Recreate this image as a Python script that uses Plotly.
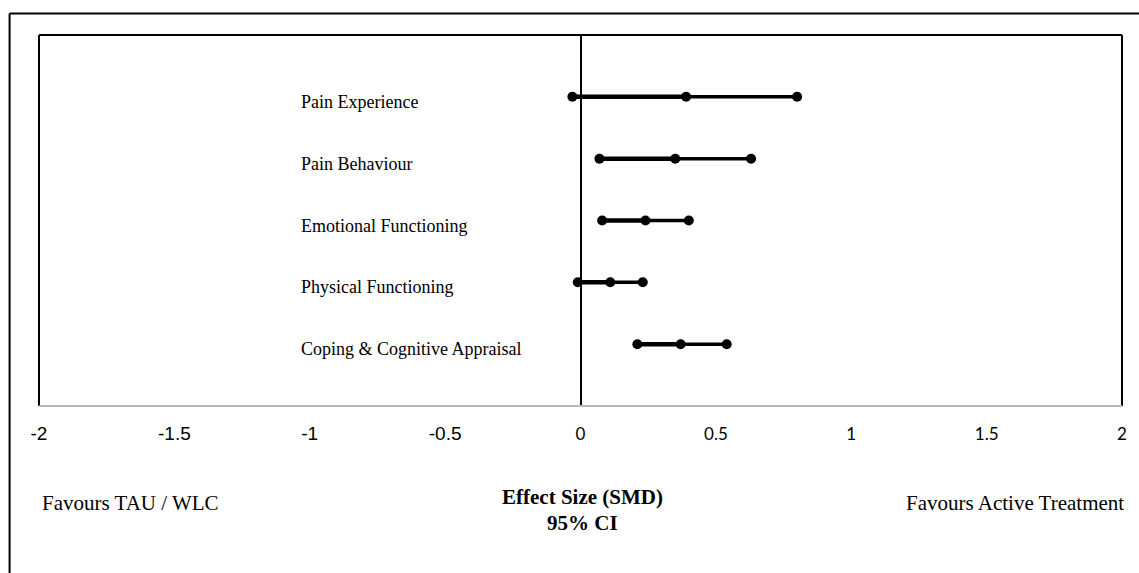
import plotly.graph_objects as go

# Outcome domains, top to bottom
domains = [
    "Pain Experience",
    "Pain Behaviour",
    "Emotional Functioning",
    "Physical Functioning",
    "Coping & Cognitive Appraisal",
]
# Standardised mean differences with 95% confidence limits
smd = [0.39, 0.35, 0.24, 0.11, 0.37]
ci_low = [-0.03, 0.07, 0.08, -0.01, 0.21]
ci_high = [0.80, 0.63, 0.40, 0.23, 0.54]

tick_vals = [-2, -1.5, -1, -0.5, 0, 0.5, 1, 1.5, 2]
tick_labels = ["-2", "-1.5", "-1", "-0.5", "0", "0.5", "1", "1.5", "2"]

W, H = 1139, 573
ML, MR, MT, MB = 39, 14, 35, 167
PW, PH = W - ML - MR, H - MT - MB


def px_x(p):
    return (p - ML) / PW


def px_y(p):
    return (H - MB - p) / PH


fig = go.Figure()

# lower limit -> estimate (heavier stroke), estimate -> upper limit
xs_lo, ys_lo, xs_hi, ys_hi = [], [], [], []
for d, lo, m, hi in zip(domains, ci_low, smd, ci_high):
    xs_lo += [lo, m, None]
    ys_lo += [d, d, None]
    xs_hi += [m, hi, None]
    ys_hi += [d, d, None]

fig.add_trace(go.Scatter(x=xs_lo, y=ys_lo, mode="lines",
                         line=dict(color="black", width=4.5),
                         hoverinfo="skip", showlegend=False))
fig.add_trace(go.Scatter(x=xs_hi, y=ys_hi, mode="lines",
                         line=dict(color="black", width=3.5),
                         hoverinfo="skip", showlegend=False))

pts_x, pts_y = [], []
for d, lo, m, hi in zip(domains, ci_low, smd, ci_high):
    pts_x += [lo, m, hi]
    pts_y += [d, d, d]
fig.add_trace(go.Scatter(x=pts_x, y=pts_y, mode="markers",
                         marker=dict(color="black", size=10),
                         showlegend=False))

# mixed tick fonts on either side of zero
ticktext = []
for v, t in zip(tick_vals, tick_labels):
    if v < 0:
        ticktext.append(t)
    else:
        ticktext.append('<span style="font-family:Lato;font-size:17px">' + t + '</span>')

fig.update_xaxes(
    range=[-2, 2], tickmode="array", tickvals=tick_vals, ticktext=ticktext,
    tickfont=dict(family="Liberation Sans", size=19, color="black"),
    showgrid=False, showline=False, ticks="", ticklabelstandoff=14,
    zeroline=True, zerolinecolor="black", zerolinewidth=2,
)
fig.update_yaxes(
    type="category", categoryorder="array", categoryarray=domains[::-1],
    range=[-1, 5], visible=False, showgrid=False, zeroline=False,
)

serif = "Liberation Serif"
annotations = []
for d in domains:
    annotations.append(dict(
        x=px_x(300), xref="paper", y=d, yref="y", yshift=-5,
        text=d, showarrow=False, xanchor="left", yanchor="middle",
        font=dict(family=serif, size=18, color="black"),
    ))

annotations += [
    dict(x=px_x(40), y=px_y(503), xref="paper", yref="paper",
         text="Favours TAU / WLC", showarrow=False, xanchor="left",
         yanchor="middle", font=dict(family=serif, size=21, color="black")),
    dict(x=px_x(1129), y=px_y(503), xref="paper", yref="paper",
         text="Favours Active Treatment", showarrow=False, xanchor="right",
         yanchor="middle", font=dict(family=serif, size=21, color="black")),
    dict(x=px_x(584), y=px_y(497), xref="paper", yref="paper",
         text="<b>Effect Size (SMD)</b>", showarrow=False, xanchor="center",
         yanchor="middle", font=dict(family=serif, size=21, color="black")),
    dict(x=px_x(584), y=px_y(523), xref="paper", yref="paper",
         text="<b>95% CI</b>", showarrow=False, xanchor="center",
         yanchor="middle", font=dict(family=serif, size=21, color="black")),
]

shapes = [
    # outer chart frame (top and left edges)
    dict(type="line", xref="paper", yref="paper",
         x0=px_x(9.5), y0=px_y(13.5), x1=px_x(1150), y1=px_y(13.5),
         line=dict(color="black", width=2)),
    dict(type="line", xref="paper", yref="paper",
         x0=px_x(9.5), y0=px_y(13.5), x1=px_x(9.5), y1=px_y(600),
         line=dict(color="black", width=2)),
    # plot area frame
    dict(type="line", xref="paper", yref="paper",
         x0=0, y0=1, x1=1, y1=1, line=dict(color="black", width=2)),
    dict(type="line", xref="paper", yref="paper",
         x0=0, y0=0, x1=0, y1=1, line=dict(color="black", width=2)),
    dict(type="line", xref="paper", yref="paper",
         x0=1, y0=0, x1=1, y1=1, line=dict(color="black", width=2)),
    dict(type="line", xref="paper", yref="paper",
         x0=0, y0=0, x1=1, y1=0, line=dict(color="#b8b8b8", width=2)),
]

fig.update_layout(
    width=W, height=H,
    margin=dict(l=ML, r=MR, t=MT, b=MB),
    paper_bgcolor="white", plot_bgcolor="white",
    annotations=annotations, shapes=shapes,
    showlegend=False,
)

fig.write_html("out.html")
